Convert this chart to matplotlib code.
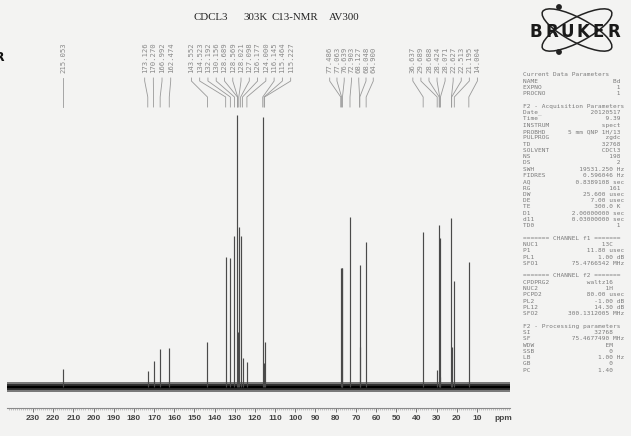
import matplotlib
matplotlib.use("Agg")
import matplotlib.pyplot as plt
from matplotlib.patches import Ellipse, Circle
from matplotlib.ticker import MultipleLocator, FixedLocator
import numpy as np

# ── DATA ─────────────────────────────────────────────────────────────────────
# peak shifts (ppm) and heights (arbitrary units)
peak_ppm = [215.053,
            173.126, 170.270, 166.992, 162.474,
            143.552, 134.523, 132.192, 130.156, 128.689, 128.569, 128.021,
            127.098, 126.177, 124.000, 116.145, 115.464, 115.227,
            77.486, 77.063, 76.639, 72.903, 68.127, 68.048, 64.900,
            36.637, 29.689, 28.688, 28.424, 28.071, 22.627, 22.513, 21.195, 14.004]
peak_height = [18,
               16, 26, 38, 39,
               45, 130, 129, 151, 272, 55, 160,
               151, 29, 25, 270, 24, 45,
               119, 119, 119, 170, 122, 40, 145,
               155, 17, 162, 149, 10, 169, 40, 106, 125]
# label groups (indices into peak_ppm), as printed above the spectrum
label_groups = [[0], [1, 2, 3, 4], list(range(5, 18)),
                list(range(18, 25)), list(range(25, 34))]
group_spacing = [4.0, 4.3, 4.1, 3.6, 4.0]

x_ticks = list(range(10, 240, 10))

title_words = ["CDCL3", "303K", "C13-NMR", "AV300"]

param_lines = [
    ("Current Data Parameters", "", "", 0),
    ("NAME", "Bd", "", 26),
    ("EXPNO", "1", "", 26),
    ("PROCNO", "1", "", 26),
    ("", "", "", 0),
    ("F2 - Acquisition Parameters", "", "", 0),
    ("Date_", "20120517", "", 26),
    ("Time", "9.39", "", 26),
    ("INSTRUM", "spect", "", 26),
    ("PROBHD", "5 mm QNP 1H/13", "", 26),
    ("PULPROG", "zgdc", "", 26),
    ("TD", "32768", "", 26),
    ("SOLVENT", "CDCl3", "", 26),
    ("NS", "198", "", 26),
    ("DS", "2", "", 26),
    ("SWH", "19531.250", "Hz", 27),
    ("FIDRES", "0.596046", "Hz", 27),
    ("AQ", "0.8389108", "sec", 27),
    ("RG", "161", "", 26),
    ("DW", "25.600", "usec", 27),
    ("DE", "7.00", "usec", 27),
    ("TE", "300.0", "K", 26),
    ("D1", "2.00000000", "sec", 27),
    ("d11", "0.03000000", "sec", 27),
    ("TD0", "1", "", 26),
    ("", "", "", 0),
    ("======= CHANNEL f1 =======", "", "", 0),
    ("NUC1", "13C", "", 24),
    ("P1", "11.80", "usec", 27),
    ("PL1", "1.00", "dB", 27),
    ("SFO1", "75.4766542", "MHz", 27),
    ("", "", "", 0),
    ("======= CHANNEL f2 =======", "", "", 0),
    ("CPDPRG2", "waltz16", "", 24),
    ("NUC2", "1H", "", 24),
    ("PCPD2", "80.00", "usec", 27),
    ("PL2", "-1.00", "dB", 27),
    ("PL12", "14.30", "dB", 27),
    ("SFO2", "300.1312005", "MHz", 27),
    ("", "", "", 0),
    ("F2 - Processing parameters", "", "", 0),
    ("SI", "32768", "", 24),
    ("SF", "75.4677490", "MHz", 27),
    ("WDW", "EM", "", 24),
    ("SSB", "0", "", 24),
    ("LB", "1.00", "Hz", 27),
    ("GB", "0", "", 24),
    ("PC", "1.40", "", 24),
]

# ── FIGURE ───────────────────────────────────────────────────────────────────
W, H = 631, 436
paper = "#f3f3f2"
fig = plt.figure(figsize=(W / 100, H / 100), dpi=100, facecolor=paper)

def fx(px):
    return px / W

def fy(py):
    return 1 - py / H

# spectrum axes: 1 data unit == 1 pixel vertically
ax = fig.add_axes([fx(7), fy(408), fx(510) - fx(7), fy(0) - fy(408)])
ax.set_facecolor("none")
ax.set_xlim(242.9, -6.4)
ax.set_ylim(-21, 387)

# baseline noise band
ax.axhspan(-5, 5, color="#2a2a2a", alpha=0.6, lw=0)
ax.axhspan(-3, 3, color="#111111", alpha=0.7, lw=0)
ax.axhline(0, color="#000000", lw=1.6)

# peaks
ax.vlines(peak_ppm, 0, peak_height, color="#4a4a4a", lw=0.85)

# peak labels + connectors
for grp, spacing in zip(label_groups, group_spacing):
    ppms = [peak_ppm[i] for i in grp]
    centre = np.mean(ppms)
    n = len(grp)
    for k, i in enumerate(grp):
        lx = centre + ((n - 1) / 2 - k) * spacing
        px = peak_ppm[i]
        ax.text(lx, 314, f"{px:.3f}", rotation=90, ha="center", va="bottom",
                family="DejaVu Sans Mono", fontsize=5.2, color="#8a8a8a")
        if n == 1:
            ax.plot([lx, lx], [309, 280], color="#999999", lw=0.6)
        else:
            ax.plot([lx, lx, px, px], [309, 306, 290, 280],
                    color="#999999", lw=0.6)

# axis styling
for side in ["left", "right", "top"]:
    ax.spines[side].set_visible(False)
ax.spines["bottom"].set_color("#8a8a8a")
ax.spines["bottom"].set_linewidth(0.8)
ax.set_yticks([])
ax.xaxis.set_major_locator(FixedLocator(x_ticks))
ax.xaxis.set_minor_locator(MultipleLocator(1))
ax.tick_params(axis="x", which="major", length=3, width=0.7, color="#777777",
               labelsize=6, labelcolor="#444444", pad=2)
ax.tick_params(axis="x", which="minor", length=1.3, width=0.4, color="#999999")
for lab in ax.get_xticklabels():
    lab.set_fontweight("bold")
    lab.set_family("Liberation Sans")
fig.text(fx(503), fy(418), "ppm", ha="center", va="center", fontsize=6,
         fontweight="bold", family="Liberation Sans", color="#444444")

# title words
for word, x0 in zip(title_words, [193, 243, 272, 329]):
    fig.text(fx(x0), fy(17), word, ha="left", va="center", fontsize=7.8,
             family="Liberation Serif", color="#222222")

# letter cut off at the left edge of the scan
fig.text(fx(5), fy(57), "R", ha="right", va="center", fontsize=9,
         fontweight="bold", color="#111111")

# parameter listing
y0 = 75
for j, (name, val, unit, width) in enumerate(param_lines):
    if val:
        v = val + (" " + unit if unit else "")
        line = name + v.rjust(width - len(name))
    else:
        line = name
    fig.text(fx(523), fy(y0 + j * 6.28), line, ha="left", va="center",
             family="DejaVu Sans Mono", fontsize=4.45, color="#7a7a7a")

# logo
lax = fig.add_axes([fx(525), fy(60), fx(628) - fx(525), fy(2) - fy(60)])
lax.set_xlim(525, 628)
lax.set_ylim(60, 2)
lax.axis("off")
for ang in [28, -28]:
    lax.add_patch(Ellipse((577, 30), 78, 24, angle=ang, fill=False,
                          ec="#222222", lw=1.1))
for cy in [7, 52]:
    lax.add_patch(Circle((559, cy), 2.2, color="#222222"))
for k, ch in enumerate("BRUKER"):
    lax.text(536 + 15.6 * k, 32, ch, ha="center", va="center", fontsize=12,
             fontweight="heavy", family="DejaVu Sans", color="#1a1a1a")

fig.savefig("out.png", dpi=100, facecolor=paper)
